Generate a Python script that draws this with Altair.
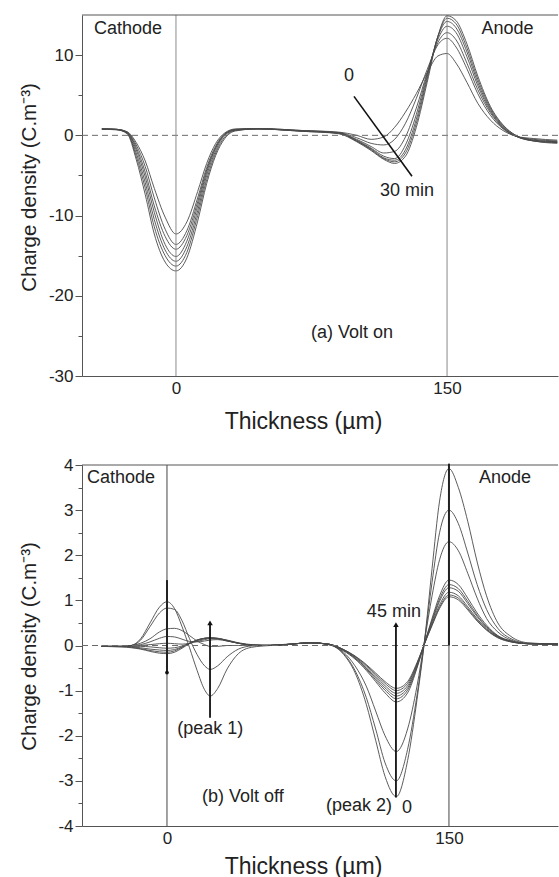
import altair as alt
import pandas as pd

FONT = "Liberation Sans"
INK = "#222222"

# ---------------- (a) Volt on : 0 -> 30 min ----------------
xa = [-41, -33, -27, -22, -17, -12, -6, 0, 6, 12, 17, 22, 27, 33, 45, 70, 90,
      100, 108, 115, 121, 127, 133, 139, 145, 150, 155, 161, 167, 174, 181, 188, 198, 211]
a_t0 = [0.8, 0.75, 0.45, -0.9, -3.2, -6.6, -10.2, -12.3, -10.8, -7.0, -3.5, -1.0, 0.3, 0.8, 0.85, 0.6, 0.4,
        0.0, -0.5, -0.2, 1.0, 2.9, 5.2, 7.8, 9.9, 10.2, 9.0, 6.6, 4.0, 1.9, 0.6, -0.1, -0.4, -0.6]
a_t1 = [0.8, 0.75, 0.4, -1.2, -3.9, -7.8, -11.7, -13.6, -11.9, -7.8, -4.0, -1.3, 0.2, 0.75, 0.85, 0.6, 0.35,
        -0.3, -1.0, -1.2, -0.5, 1.5, 4.6, 8.2, 11.3, 12.1, 11.0, 8.3, 5.2, 2.5, 0.8, -0.1, -0.5, -0.7]
a_t2 = [0.8, 0.75, 0.38, -1.5, -4.6, -8.8, -12.6, -14.2, -12.5, -8.3, -4.3, -1.5, 0.15, 0.7, 0.8, 0.55, 0.3,
        -0.5, -1.4, -2.2, -2.0, -0.2, 3.4, 7.8, 11.6, 12.8, 11.9, 9.0, 5.7, 2.8, 0.9, -0.1, -0.6, -0.8]
a_t3 = [0.8, 0.75, 0.35, -1.8, -5.2, -9.6, -13.6, -15.1, -13.2, -8.8, -4.6, -1.6, 0.1, 0.7, 0.8, 0.55, 0.3,
        -0.6, -1.6, -2.6, -2.9, -1.2, 2.6, 7.6, 12.0, 13.6, 12.8, 9.8, 6.2, 3.0, 1.0, -0.1, -0.6, -0.8]
a_t4 = [0.8, 0.72, 0.3, -2.2, -5.9, -10.5, -14.3, -15.7, -13.9, -9.4, -5.0, -1.9, 0.0, 0.65, 0.8, 0.55, 0.3,
        -0.7, -1.7, -2.8, -3.1, -1.8, 2.0, 7.3, 12.3, 14.2, 13.4, 10.4, 6.6, 3.2, 1.1, -0.1, -0.7, -0.9]
a_t5 = [0.75, 0.7, 0.25, -2.6, -6.6, -11.4, -15.0, -16.3, -14.6, -10.0, -5.5, -2.2, -0.2, 0.6, 0.8, 0.5, 0.25,
        -0.7, -1.8, -2.9, -3.3, -2.2, 1.5, 7.0, 12.4, 14.6, 13.9, 10.9, 7.0, 3.4, 1.2, 0.0, -0.7, -0.9]
a_t6 = [0.75, 0.7, 0.2, -3.0, -7.4, -12.3, -15.8, -16.9, -15.3, -10.7, -6.0, -2.5, -0.4, 0.55, 0.8, 0.5, 0.2,
        -0.8, -1.9, -3.0, -3.5, -2.6, 1.0, 6.6, 12.4, 14.9, 14.3, 11.4, 7.4, 3.6, 1.3, 0.0, -0.7, -1.0]

# ---------------- (b) Volt off : 0 -> 45 min ----------------
xb = [-35, -24, -19, -14, -9, -4, 0, 4, 8, 12, 16, 20, 23, 27, 32, 38, 45, 55, 66, 76,
      86, 94, 100, 106, 111, 116, 122, 128, 133, 137, 141, 145, 150, 155, 160, 165, 170, 176, 183, 192, 208]
b_t0 = [-0.02, -0.02, 0.0, 0.15, 0.5, 0.85, 0.97, 0.82, 0.42, -0.05, -0.55, -0.98, -1.12, -0.95, -0.52, -0.18, -0.04, 0.0, 0.03, 0.06,
        0.02, -0.2, -0.6, -1.3, -2.1, -2.9, -3.35, -2.55, -1.2, 0.1, 1.7, 3.2, 3.92, 3.5, 2.75, 1.85, 1.1, 0.5, 0.2, 0.06, 0.03]
b_t1 = [-0.02, -0.02, 0.0, 0.12, 0.42, 0.72, 0.83, 0.8, 0.55, 0.15, -0.2, -0.45, -0.53, -0.45, -0.25, -0.08, -0.01, 0.01, 0.03, 0.06,
        0.02, -0.18, -0.55, -1.15, -1.85, -2.6, -3.0, -2.3, -1.1, 0.1, 1.4, 2.5, 3.0, 2.7, 2.05, 1.35, 0.8, 0.38, 0.15, 0.05, 0.03]
b_t2 = [-0.02, -0.02, 0.0, 0.05, 0.15, 0.3, 0.37, 0.38, 0.33, 0.22, 0.1, 0.02, -0.02, -0.02, 0.0, 0.0, 0.0, 0.01, 0.03, 0.06,
        0.02, -0.15, -0.45, -0.9, -1.45, -2.0, -2.35, -1.85, -0.9, 0.1, 1.1, 1.9, 2.3, 2.1, 1.6, 1.05, 0.6, 0.3, 0.12, 0.04, 0.03]
b_t3 = [-0.02, -0.02, 0.0, 0.02, 0.08, 0.16, 0.2, 0.19, 0.14, 0.09, 0.08, 0.1, 0.12, 0.13, 0.1, 0.05, 0.01, 0.0, 0.03, 0.06,
        0.03, -0.12, -0.3, -0.55, -0.8, -1.05, -1.25, -1.05, -0.5, 0.05, 0.6, 1.1, 1.45, 1.35, 1.05, 0.72, 0.45, 0.22, 0.1, 0.04, 0.03]
b_t4 = [-0.02, -0.02, -0.01, 0.0, 0.02, 0.04, 0.05, 0.04, 0.03, 0.05, 0.09, 0.13, 0.15, 0.15, 0.12, 0.06, 0.02, 0.0, 0.03, 0.06,
        0.03, -0.11, -0.28, -0.52, -0.76, -0.99, -1.18, -0.99, -0.47, 0.05, 0.56, 1.03, 1.35, 1.26, 0.98, 0.67, 0.42, 0.21, 0.1, 0.04, 0.03]
b_t5 = [-0.02, -0.02, -0.02, -0.02, -0.03, -0.05, -0.06, -0.05, -0.01, 0.05, 0.11, 0.15, 0.16, 0.15, 0.11, 0.05, 0.01, 0.0, 0.03, 0.06,
        0.03, -0.1, -0.27, -0.5, -0.72, -0.94, -1.12, -0.94, -0.45, 0.05, 0.53, 0.98, 1.28, 1.2, 0.93, 0.64, 0.4, 0.2, 0.09, 0.04, 0.03]
b_t6 = [-0.02, -0.02, -0.03, -0.05, -0.08, -0.1, -0.11, -0.09, -0.03, 0.05, 0.12, 0.16, 0.17, 0.15, 0.1, 0.05, 0.01, 0.0, 0.03, 0.06,
        0.03, -0.1, -0.25, -0.47, -0.68, -0.89, -1.06, -0.89, -0.42, 0.04, 0.49, 0.9, 1.18, 1.1, 0.86, 0.59, 0.37, 0.19, 0.09, 0.04, 0.03]
b_t7 = [-0.02, -0.03, -0.04, -0.07, -0.11, -0.14, -0.15, -0.12, -0.04, 0.05, 0.12, 0.16, 0.17, 0.16, 0.11, 0.05, 0.01, 0.0, 0.03, 0.06,
        0.03, -0.09, -0.24, -0.44, -0.64, -0.84, -1.0, -0.84, -0.4, 0.04, 0.46, 0.85, 1.12, 1.05, 0.82, 0.56, 0.35, 0.18, 0.08, 0.04, 0.03]
b_t8 = [-0.02, -0.03, -0.05, -0.08, -0.13, -0.17, -0.18, -0.15, -0.06, 0.04, 0.12, 0.16, 0.17, 0.16, 0.11, 0.05, 0.01, 0.0, 0.03, 0.06,
        0.03, -0.09, -0.23, -0.42, -0.61, -0.8, -0.95, -0.8, -0.38, 0.04, 0.44, 0.82, 1.08, 1.01, 0.79, 0.54, 0.34, 0.17, 0.08, 0.04, 0.03]

# annotations
electrodes = [0, 150]
a_left_text = ["Cathode", "Anode", "(a) Volt on"]
a_left_x = [-45.4, 169, 74.7]
a_left_y = [13.3, 13.3, -24.7]
a_center_text = ["0", "30 min"]
a_center_x = [95.7, 127.8]
a_center_y = [7.35, -7.0]
a_slant = {"x": [98.5], "y": [4.86], "x2": [130.6], "y2": [-5.1]}

b_left_text = ["Cathode", "Anode", "(b) Volt off"]
b_left_x = [-42.5, 166, 18.6]
b_left_y = [3.71, 3.71, -3.36]
b_center_text = ["(peak 1)", "45 min", "0"]
b_center_x = [23, 120.7, 127.7]
b_center_y = [-1.86, 0.75, -3.6]
b_right_text = ["(peak 2)"]
b_right_x = [119.7]
b_right_y = [-3.56]
b_arrow_x = [22.9, 121.8]
b_arrow_lo = [-1.6, -3.37]
b_arrow_hi = [0.5, 0.46]
b_bar_x = [0, 150]
b_bar_lo = [-0.6, 0]
b_bar_hi = [1.45, 4.03]

W = 476
H = 361


def long_df(xs, curves):
    rows = []
    for name, ys in curves.items():
        for x, y in zip(xs, ys):
            rows.append({"x": x, "y": y, "curve": name})
    return pd.DataFrame(rows)


def make_enc(xsc, ysc, yvals, major_test, xtitle_y, ytitle_y):
    x_axis = alt.Axis(values=electrodes, title="Thickness (µm)", ticks=False, grid=False,
                      labelFont=FONT, labelFontSize=17, labelColor=INK, labelPadding=4,
                      titleFont=FONT, titleFontSize=23, titleFontWeight="normal", titleColor=INK,
                      titleX=221, titleY=xtitle_y, titleBaseline="middle", titleAlign="center",
                      domainColor="#555555", domainWidth=1)
    y_axis = alt.Axis(values=yvals, title="Charge density (C.m⁻³)", grid=False,
                      labelExpr="(" + major_test + ") ? toString(datum.value) : ''",
                      labelFont=FONT, labelFontSize=17, labelColor=INK, labelPadding=2,
                      tickSize={"condition": {"test": major_test, "value": 7}, "value": 4},
                      tickColor="#555555", domainColor="#555555", domainWidth=1,
                      titleFont=FONT, titleFontSize=20.5, titleFontWeight="normal", titleColor=INK,
                      titleAngle=-90, titleX=-53, titleY=ytitle_y, titleBaseline="middle",
                      titleAlign="center")

    def X(field):
        return alt.X(field, type="quantitative", scale=xsc, axis=x_axis)

    def Y(field):
        return alt.Y(field, type="quantitative", scale=ysc, axis=y_axis)
    return X, Y


def text_layer(texts, xs, ys, align, X, Y):
    df = pd.DataFrame({"x": xs, "y": ys, "t": texts})
    return alt.Chart(df).mark_text(font=FONT, fontSize=18, color=INK, align=align,
                                   baseline="middle").encode(x=X("x"), y=Y("y"), text="t:N")


def panel(df, X, Y, elec_color, extra):
    curves = alt.Chart(df).mark_line(interpolate="monotone", color="#4a4a4a",
                                     strokeWidth=0.9, clip=True).encode(
        x=X("x"), y=Y("y"), detail="curve:N")
    one = pd.DataFrame({"y": [0]})
    zero = alt.Chart(one).mark_rule(strokeDash=[6, 4], color="#6a6a6a", strokeWidth=1).encode(y=Y("y"))
    top = alt.Chart(one).mark_rule(color="#555555", strokeWidth=1).encode(y=alt.value(0))
    elec = alt.Chart(pd.DataFrame({"x": electrodes})).mark_rule(color=elec_color, strokeWidth=1).encode(
        x=X("x"))
    layers = [curves, zero, elec, top] + extra
    return alt.layer(*layers).properties(width=W, height=H)


xs_a = alt.Scale(domain=[-52, 211.4], nice=False, zero=False)
ys_a = alt.Scale(domain=[-30, 15], nice=False, zero=False)
xs_b = alt.Scale(domain=[-45.2, 208], nice=False, zero=False)
ys_b = alt.Scale(domain=[-4, 4], nice=False, zero=False)

yvals_a = [-30, -25, -20, -15, -10, -5, 0, 5, 10]
yvals_b = [-4, -3.5, -3, -2.5, -2, -1.5, -1, -0.5, 0, 0.5, 1, 1.5, 2, 2.5, 3, 3.5, 4]

Xa, Ya = make_enc(xs_a, ys_a, yvals_a, "datum.value % 10 === 0", 45, 172)
Xb, Yb = make_enc(xs_b, ys_b, yvals_b, "datum.value % 1 === 0", 40, 181)

df_a = long_df(xa, {"0": a_t0, "5": a_t1, "10": a_t2, "15": a_t3, "20": a_t4, "25": a_t5, "30": a_t6})
df_b = long_df(xb, {"0": b_t0, "5": b_t1, "10": b_t2, "15": b_t3, "20": b_t4, "25": b_t5,
                    "30": b_t6, "35": b_t7, "45": b_t8})

slant = alt.Chart(pd.DataFrame(a_slant)).mark_rule(color="#111111", strokeWidth=1.6).encode(
    x=Xa("x"), y=Ya("y"), x2="x2:Q", y2="y2:Q")

extra_a = [slant,
           text_layer(a_left_text, a_left_x, a_left_y, "left", Xa, Ya),
           text_layer(a_center_text, a_center_x, a_center_y, "center", Xa, Ya)]

arr_df = pd.DataFrame({"x": b_arrow_x, "lo": b_arrow_lo, "hi": b_arrow_hi})
arrows = alt.Chart(arr_df).mark_rule(color="#111111", strokeWidth=1.8).encode(
    x=Xb("x"), y=Yb("lo"), y2="hi:Q")
heads = alt.Chart(arr_df).mark_point(shape="triangle-up", filled=True, size=30, color="#111111",
                                     opacity=1).encode(x=Xb("x"), y=Yb("hi"))
bar_df = pd.DataFrame({"x": b_bar_x, "lo": b_bar_lo, "hi": b_bar_hi})
bars = alt.Chart(bar_df).mark_rule(color="#222222", strokeWidth=2).encode(
    x=Xb("x"), y=Yb("lo"), y2="hi:Q")
dot = alt.Chart(pd.DataFrame({"x": [b_bar_x[0]], "y": [b_bar_lo[0]]})).mark_point(
    shape="circle", filled=True, size=14, color="#111111", opacity=1).encode(x=Xb("x"), y=Yb("y"))

extra_b = [bars, dot, arrows, heads,
           text_layer(b_left_text, b_left_x, b_left_y, "left", Xb, Yb),
           text_layer(b_center_text, b_center_x, b_center_y, "center", Xb, Yb),
           text_layer(b_right_text, b_right_x, b_right_y, "right", Xb, Yb)]

pa = panel(df_a, Xa, Ya, "#8a8a8a", extra_a)
pb = panel(df_b, Xb, Yb, "#444444", extra_b)

chart = alt.vconcat(pa, pb, spacing=89, bounds="flush").properties(
    padding={"left": 19, "top": 14, "right": 0, "bottom": 0},
    background="white"
).configure_view(stroke=None)

chart.save("out.html", embed_options={"renderer": "svg", "actions": False})
